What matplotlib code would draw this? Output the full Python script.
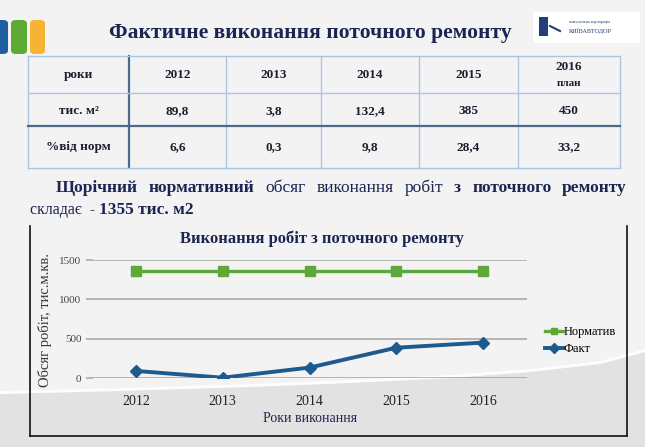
import matplotlib
matplotlib.use("Agg")
import matplotlib.pyplot as plt
from matplotlib.patches import FancyBboxPatch, Rectangle, Polygon
from matplotlib.lines import Line2D

# ---------------- data ----------------
years = ['2012', '2013', '2014', '2015', '2016']
fact = [89.8, 3.8, 132.4, 385, 450]
norm = [1355, 1355, 1355, 1355, 1355]
yticks = [0, 500, 1000, 1500]

table_header = ['роки', '2012', '2013', '2014', '2015', '2016']
table_area = ['тис. м²', '89,8', '3,8', '132,4', '385', '450']
table_pct = ['%від норм', '6,6', '0,3', '9,8', '28,4', '33,2']

slide_title = 'Фактичне виконання поточного ремонту'
chart_title = 'Виконання робіт з поточного ремонту'
ylabel = 'Обсяг робіт, тис.м.кв.'
xlabel = 'Роки виконання'
legend_labels = ['Норматив', 'Факт']

W, H = 645, 447
fig = plt.figure(figsize=(W / 100, H / 100), dpi=100, facecolor='#f3f3f3')
SERIF = ['Liberation Serif', 'DejaVu Serif']
NAVY = '#1c2452'


def fx(x):
    return x / W


def fy(y):
    return 1 - y / H


# ------------- background swoosh -------------
curve = [(0, 394), (120, 391), (250, 387), (350, 383), (450, 378), (530, 372),
         (600, 364), (645, 352)]
poly = Polygon([(fx(x), fy(y)) for x, y in curve] + [(1, 0), (0, 0)],
               closed=True, transform=fig.transFigure, facecolor='#e2e2e2',
               edgecolor='none', zorder=-2)
fig.add_artist(poly)
fig.add_artist(Line2D([fx(x) for x, y in curve], [fy(y - 1.5) for x, y in curve],
                      transform=fig.transFigure, color='white', lw=2, alpha=0.9, zorder=-1))

# ------------- colored tabs -------------
for x0, x1, c in [(-6, 8, '#1f5fa0'), (11, 27, '#5caa34'), (30, 45, '#f6b334')]:
    p = FancyBboxPatch((fx(x0), fy(54)), fx(x1) - fx(x0), fy(20) - fy(54),
                       boxstyle='round,pad=0,rounding_size=0.008',
                       transform=fig.transFigure, facecolor=c, edgecolor='none', zorder=1)
    fig.add_artist(p)

# ------------- title -------------
fig.text(fx(310), fy(33), slide_title, ha='center', va='center', family=SERIF,
         fontsize=15.5, fontweight='bold', color=NAVY)

# ------------- logo -------------
fig.add_artist(Rectangle((fx(533), fy(43)), fx(107), fy(12) - fy(43),
                         transform=fig.transFigure, facecolor='white', edgecolor='none'))
fig.add_artist(Rectangle((fx(539), fy(36)), fx(9), fy(17) - fy(36),
                         transform=fig.transFigure, facecolor='#1f3f7a', edgecolor='none'))
fig.add_artist(Line2D([fx(550), fx(560)], [fy(26), fy(31)], transform=fig.transFigure,
                      color='#1f3f7a', lw=1.5))
fig.text(fx(590), fy(31), 'КИЇВАВТОДОР', ha='center', va='center', family=SERIF,
         fontsize=4.5, color='#1f3f7a')
fig.text(fx(590), fy(22), 'комунальна корпорація', ha='center', va='center', family=SERIF,
         fontsize=3, color='#1f3f7a')

# ------------- table -------------
col_x = [28, 129, 226, 321, 419, 518, 620]
row_y = [56, 93, 126, 168]
light = '#a9c6e0'
dark = '#4d6a88'
for i, x in enumerate(col_x):
    c, lw = (dark, 1.6) if i == 1 else (light, 1.0)
    fig.add_artist(Line2D([fx(x), fx(x)], [fy(row_y[0]), fy(row_y[-1])],
                          transform=fig.transFigure, color=c, lw=lw, zorder=2))
for i, y in enumerate(row_y):
    c, lw = (dark, 1.6) if i == 2 else (light, 1.0)
    fig.add_artist(Line2D([fx(col_x[0]), fx(col_x[-1])], [fy(y), fy(y)],
                          transform=fig.transFigure, color=c, lw=lw, zorder=2))

row_cy = [75, 111, 147]
for r, row in enumerate([table_header, table_area, table_pct]):
    for c, txt in enumerate(row):
        cx = (col_x[c] + col_x[c + 1]) / 2
        cy = row_cy[r]
        if r == 0 and c == 5:
            cy = 67
        fig.text(fx(cx), fy(cy), txt, ha='center', va='center', family=SERIF,
                 fontsize=9.5, fontweight='bold', color='#1e1e2e')
fig.text(fx((col_x[5] + col_x[6]) / 2), fy(83), 'план', ha='center', va='center',
         family=SERIF, fontsize=8, fontweight='bold', color='#1e1e2e')

# ------------- paragraph (justified first line) -------------
renderer = fig.canvas.get_renderer()
line1 = [('Щорічний', True), ('нормативний', True), ('обсяг', False), ('виконання', False),
         ('робіт', False), ('з', True), ('поточного', True), ('ремонту', True)]
texts = []
for w, b in line1:
    t = fig.text(0, fy(188), w, ha='left', va='center', family=SERIF, fontsize=12.5,
                 fontweight='bold' if b else 'normal', color=NAVY)
    texts.append(t)
widths = [t.get_window_extent(renderer=renderer).width for t in texts]
x_start, x_end = 56, 627
gap = (x_end - x_start - sum(widths)) / (len(texts) - 1)
x = x_start
for t, w in zip(texts, widths):
    t.set_x(fx(x))
    x += w + gap
t1 = fig.text(fx(30), fy(210), 'складає  - ', ha='left', va='center', family=SERIF,
              fontsize=11.5, color=NAVY)
w1 = t1.get_window_extent(renderer=renderer).width
fig.text(fx(30 + w1), fy(210), '1355 тис. м2', ha='left', va='center', family=SERIF,
         fontsize=12.5, fontweight='bold', color=NAVY)

# ------------- chart box -------------
for xs_, ys_ in [([30, 30], [226, 436]), ([627, 627], [226, 436]), ([30, 627], [436, 436])]:
    fig.add_artist(Line2D([fx(v) for v in xs_], [fy(v) for v in ys_],
                          transform=fig.transFigure, color='#111111', lw=1.2, zorder=3))

fig.text(fx(322), fy(239), chart_title, ha='center', va='center', family=SERIF,
         fontsize=12, fontweight='bold', color=NAVY)

ax = fig.add_axes([fx(92.5), fy(378), fx(434), fy(260) - fy(378)])
ax.set_zorder(2)
ax.set_facecolor('none')
xs = list(range(len(years)))
ax.plot(xs, norm, color='#5ea83a', lw=2.4, marker='s', markersize=7.5,
        label=legend_labels[0], zorder=3)
ax.plot(xs, fact, color='#1d5a8e', lw=2.8, marker='D', markersize=6.5,
        label=legend_labels[1], zorder=3)
ax.set_xlim(-0.5, len(years) - 0.5)
ax.set_ylim(0, 1500)
ax.set_yticks(yticks)
ax.set_xticks(xs)
ax.set_xticklabels(years)
ax.grid(axis='y', color='#a3a3a3', lw=1.1)
ax.set_axisbelow(True)
for s in ax.spines.values():
    s.set_visible(False)
ax.tick_params(axis='y', length=5, color='#a3a3a3', width=1.1, pad=3,
               labelsize=8, labelcolor='#444444')
ax.tick_params(axis='x', length=0, pad=12, labelsize=10, labelcolor='#222222')
for lab in ax.get_xticklabels() + ax.get_yticklabels():
    lab.set_family(SERIF)

fig.text(fx(45), fy(320), ylabel, rotation=90, ha='center', va='center', family=SERIF,
         fontsize=10.5, color='#333333')
fig.text(fx(310), fy(418), xlabel, ha='center', va='center', family=SERIF,
         fontsize=10, color='#222255')

leg = ax.legend(loc='center left', bbox_to_anchor=(fx(534), fy(341)),
                bbox_transform=fig.transFigure, frameon=False,
                handlelength=1.4, handletextpad=0.1, labelspacing=0.4,
                prop={'family': SERIF, 'size': 9})
for h in leg.legend_handles:
    h.set_markersize(5)

fig.savefig('out.png', dpi=100, facecolor=fig.get_facecolor())
